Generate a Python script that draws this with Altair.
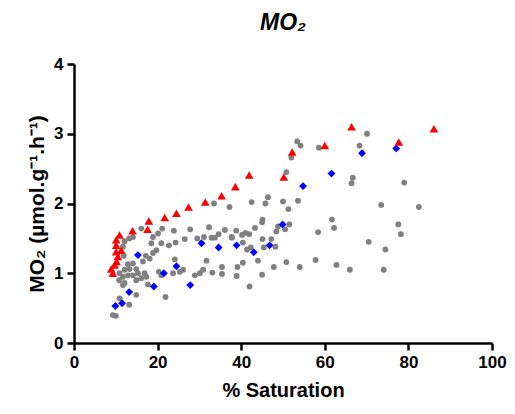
import altair as alt
import pandas as pd

# Grey circles
gray_sat = [79.0, 73.5, 82.5, 77.6, 78.2, 74.5, 74.1,
            70.1, 68.3, 66.7, 66.4, 61.7, 62.2, 70.5, 62.8, 66.0,
            53.4, 54.2, 58.6, 52.0, 50.8,
            37.2, 42.5, 46.4, 45.8, 50.0, 53.6, 51.3,
            45.1, 45.0, 51.5, 48.8, 48.4, 50.5, 43.3, 38.8, 41.0, 40.2, 41.9, 37.7, 40.4, 45.1, 47.2, 58.4,
            41.4, 42.3, 45.4, 48.2, 44.0, 40.4, 39.1, 47.8, 50.8, 54.0, 57.8, 38.9, 45.0, 42.0,
            33.5, 16.1, 18.9, 20.1, 21.1, 18.5, 20.9, 22.7, 23.9, 24.3, 26.5, 27.8, 29.5, 31.1, 32.3, 32.9, 33.7, 34.6, 36.1, 37.8,
            14.1, 13.2, 12.1, 11.7, 11.9, 17.2, 18.1, 18.9, 19.7, 16.5, 12.9, 14.1, 12.1, 13.3, 14.9, 10.9, 11.7, 12.9, 14.1, 15.3,
            16.9, 17.3, 16.1, 10.8, 12.1, 11.7, 17.7, 14.9, 20.3, 20.9, 23.7, 24.1, 25.3, 26.1, 28.9, 30.1, 30.9, 31.7, 33.1, 35.4,
            35.4, 14.9, 13.2, 10.9, 21.9, 9.3, 10.0]
gray_mo2 = [2.30, 1.98, 1.95, 1.70, 1.56, 1.34, 1.05,
            3.00, 2.83, 2.37, 2.29, 1.77, 1.65, 1.45, 1.12, 1.05,
            2.89, 2.83, 2.80, 2.66, 2.45,
            1.95, 2.02, 2.09, 2.00, 2.03, 2.04, 1.92,
            1.77, 1.73, 1.70, 1.67, 1.60, 1.63, 1.65, 1.61, 1.58, 1.55, 1.56, 1.52, 1.44, 1.49, 1.49, 1.59,
            1.34, 1.37, 1.37, 1.38, 1.18, 1.15, 1.09, 1.09, 1.16, 1.09, 1.19, 0.96, 0.98, 0.81,
            2.00, 1.64, 1.52, 1.57, 1.64, 1.43, 1.43, 1.40, 1.61, 1.44, 1.49, 1.63, 1.50, 1.52, 1.66, 1.51, 1.51, 1.56, 1.62, 1.51,
            1.52, 1.50, 1.46, 1.38, 1.25, 1.25, 1.21, 1.29, 1.33, 1.17, 1.13, 1.14, 1.05, 1.06, 1.06, 1.00, 0.95, 0.97, 0.97, 1.00,
            1.00, 0.95, 0.93, 0.90, 0.86, 0.83, 0.84, 0.90, 1.02, 0.97, 1.00, 1.20, 1.02, 1.05, 0.97, 1.00, 1.05, 1.18, 1.01, 1.09,
            0.99, 0.69, 0.55, 0.64, 0.66, 0.40, 0.39]

# Red triangles
red_sat = [8.9, 9.3, 9.7, 10.2, 10.5, 10.1, 11.3, 10.1, 10.1, 10.9, 14.0, 17.6, 17.9, 21.7, 24.5,
           27.4, 31.4, 35.3, 38.6, 41.9, 50.2, 52.2, 60.0, 66.4, 77.7, 86.1]
red_mo2 = [1.06, 1.00, 1.12, 1.17, 1.24, 1.31, 1.33, 1.40, 1.48, 1.55, 1.61, 1.63, 1.75, 1.80, 1.86,
           1.95, 2.02, 2.11, 2.24, 2.41, 2.38, 2.74, 2.83, 3.10, 2.88, 3.07]

# Blue diamonds
blue_sat = [9.9, 11.5, 13.2, 15.3, 19.1, 21.5, 24.5, 27.8, 30.5, 34.6, 38.9, 43.0, 46.8, 49.9,
            54.8, 61.6, 68.9, 77.1]
blue_mo2 = [0.53, 0.57, 0.73, 1.26, 0.81, 1.00, 1.10, 0.83, 1.43, 1.37, 1.40, 1.30, 1.40, 1.70,
            2.25, 2.43, 2.72, 2.79]

df_gray = pd.DataFrame({"sat": gray_sat, "mo2": gray_mo2})
df_red = pd.DataFrame({"sat": red_sat, "mo2": red_mo2})
df_blue = pd.DataFrame({"sat": blue_sat, "mo2": blue_mo2})

FONT = "Liberation Sans"

x_enc = alt.X("sat:Q", scale=alt.Scale(domain=[0, 100], nice=False),
              axis=alt.Axis(values=[0, 20, 40, 60, 80, 100], title="% Saturation"))
y_enc = alt.Y("mo2:Q", scale=alt.Scale(domain=[0, 4], nice=False),
              axis=alt.Axis(values=[0, 1, 2, 3, 4], title="MO\u2082 (\u00b5mol.g\u207b\u00b9.h\u207b\u00b9)"))

gray = alt.Chart(df_gray).mark_point(filled=True, shape="circle", size=34,
                                     color="#808080", opacity=1).encode(x=x_enc, y=y_enc)
blue = alt.Chart(df_blue).mark_point(filled=True, shape="diamond", size=62,
                                     color="#0000ff", opacity=1).encode(x=x_enc, y=y_enc)
red = alt.Chart(df_red).mark_point(filled=True, shape="triangle-up", size=75,
                                   color="#ff0000", opacity=1).encode(x=x_enc, y=y_enc)

chart = alt.layer(gray, blue, red).properties(
    width=418, height=279,
    title=alt.TitleParams("MO\u2082", font=FONT, fontSize=23, fontWeight="bold",
                          fontStyle="italic", anchor="middle", offset=20, color="black"),
    autosize=alt.AutoSizeParams(type="none"),
    padding={"left": 66, "top": 56, "right": 15, "bottom": 60},
).configure_view(stroke=None).configure_axis(
    grid=False,
    domainColor="black", domainWidth=2.5,
    tickColor="black", tickWidth=2.5, tickSize=7,
    labelFont=FONT, labelFontSize=17, labelFontWeight="bold", labelColor="black",
    titleFont=FONT, titleFontWeight="bold", titleColor="black",
).configure_axisX(labelPadding=4, titlePadding=10, titleFontSize=20,
                  labelFlush=False).configure_axisY(
    labelPadding=4, titlePadding=6, titleFontSize=21, labelFlush=False)

chart.save("out.html", embed_options={"renderer": "svg", "actions": False})
